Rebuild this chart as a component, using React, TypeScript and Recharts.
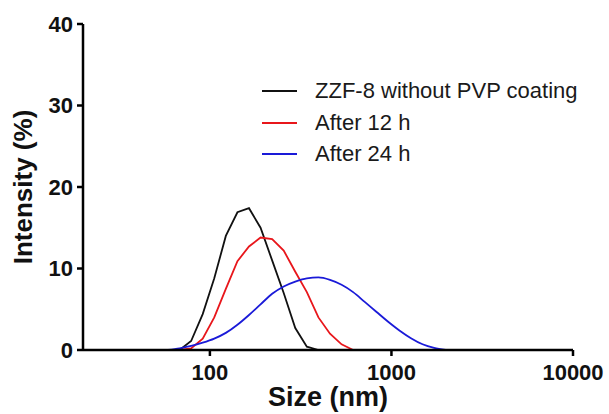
import React from 'react'
import {LineChart, Line, XAxis, YAxis, Legend, Label} from 'recharts'

const blackSizes = [68.06, 78.82, 91.28, 105.7, 122.4, 141.8, 164.2, 190.1, 220.2, 255.0, 295.3, 342.0, 396.1]
const blackValues = [0, 1.1, 4.4, 8.8, 14.0, 16.9, 17.4, 15.0, 11.0, 7.0, 2.7, 0.4, 0]

const redSizes = [68.06, 78.82, 91.28, 105.7, 122.4, 141.8, 164.2, 190.1, 220.2, 255.0, 295.3, 342.0, 396.1, 458.7, 531.2, 615.1]
const redValues = [0, 0.2, 1.4, 4.0, 7.5, 10.9, 12.7, 13.8, 13.6, 12.2, 9.6, 7.1, 4.0, 2.0, 0.7, 0]

const blueSizes = [58.77, 68.06, 78.82, 91.28, 105.7, 122.4, 141.8, 164.2, 190.1, 220.2, 255.0, 295.3, 342.0, 396.1, 458.7, 531.2, 615.1, 712.4, 825.0, 955.4, 1106, 1281, 1484, 1718, 1990]
const blueValues = [0, 0.2, 0.5, 0.9, 1.4, 2.1, 3.1, 4.3, 5.6, 6.9, 7.8, 8.4, 8.8, 8.9, 8.6, 8.0, 7.1, 5.9, 4.7, 3.5, 2.4, 1.45, 0.7, 0.25, 0]

const xTicks = [100, 1000, 10000]
const yTicks = [0, 10, 20, 30, 40]

const seriesNames = ['ZZF-8 without PVP coating', 'After 12 h', 'After 24 h']
const seriesColors = ['#111111', '#e8161b', '#1a1ad8']

const toRows = (sizes: number[], values: number[]) => sizes.map((size, i) => ({size, value: values[i]}))

const font = '"Liberation Sans", Arial, sans-serif'

function LegendBox(){
  return (
    <div style={{fontFamily: font, fontSize: 22, color: '#1a1a1a'}}>
      {seriesNames.map((name, i) => (
        <div key={name} style={{display: 'flex', alignItems: 'center', height: 31.7, whiteSpace: 'nowrap'}}>
          <span style={{display: 'inline-block', width: 35, height: 0, borderTop: `2px solid ${seriesColors[i]}`, marginRight: 18}} />
          <span>{name}</span>
        </div>
      ))}
    </div>
  )
}

export default function App(){
  const tickStyle = {fontFamily: font, fontSize: 22, fontWeight: 700, fill: '#111'}
  return (
    <div style={{position: 'absolute', left: 0, top: 0, background: '#fff'}}>
      <LineChart width={609} height={414} margin={{top: 24, right: 36, left: 0, bottom: 0}}>
        <XAxis dataKey="size" type="number" scale="log" domain={[20, 10000]} ticks={xTicks}
          allowDataOverflow height={64} stroke="#000" strokeWidth={2.5} tickSize={6} tickMargin={8}
          tick={tickStyle} tickLine={{stroke: '#000', strokeWidth: 2.5}}>
          <Label value="Size (nm)" position="insideBottom" offset={8}
            style={{fontFamily: font, fontSize: 27, fontWeight: 700, fill: '#111'}} />
        </XAxis>
        <YAxis type="number" domain={[0, 40]} ticks={yTicks} width={83} stroke="#000" strokeWidth={2.5}
          tickSize={6} tickMargin={4} tick={tickStyle} tickLine={{stroke: '#000', strokeWidth: 2.5}}>
          <Label value="Intensity (%)" angle={-90} position="insideLeft" offset={23}
            style={{fontFamily: font, fontSize: 26, fontWeight: 700, fill: '#111', textAnchor: 'middle'}} />
        </YAxis>
        <Legend layout="vertical" align="center" verticalAlign="middle" content={<LegendBox />}
          wrapperStyle={{left: 262, top: 75, width: 330}} />
        <Line data={toRows(blackSizes, blackValues)} dataKey="value" name={seriesNames[0]} type="linear"
          stroke={seriesColors[0]} strokeWidth={1.8} dot={false} isAnimationActive={false} />
        <Line data={toRows(redSizes, redValues)} dataKey="value" name={seriesNames[1]} type="linear"
          stroke={seriesColors[1]} strokeWidth={1.8} dot={false} isAnimationActive={false} />
        <Line data={toRows(blueSizes, blueValues)} dataKey="value" name={seriesNames[2]} type="monotone"
          stroke={seriesColors[2]} strokeWidth={1.8} dot={false} isAnimationActive={false} />
      </LineChart>
    </div>
  )
}
